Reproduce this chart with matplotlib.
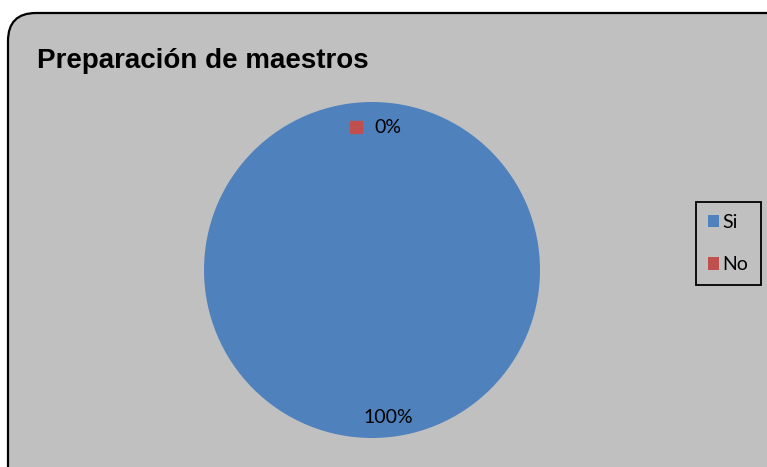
import numpy as np
import matplotlib.pyplot as plt
from matplotlib.patches import FancyBboxPatch, Patch
from matplotlib.transforms import offset_copy

title = 'Preparación de maestros'
categories = ['Si', 'No']
values = [100, 0]
pct_labels = ['100%', '0%']
colors = ['#4F81BD', '#C0504D']

W, H = 767, 467
fig = plt.figure(figsize=(W / 100, H / 100), dpi=100)

# background panel in pixel units
bg = fig.add_axes([0, 0, 1, 1])
bg.set_xlim(0, W)
bg.set_ylim(H, 0)
bg.axis('off')
bg.add_patch(FancyBboxPatch((8, 13), 820, 520, boxstyle='round,pad=0,rounding_size=28',
                            facecolor='#C0C0C0', edgecolor='black', linewidth=1.6))
bg.text(37, 68, title, fontsize=20, fontweight='bold', family='Liberation Sans',
        ha='left', va='baseline')

# pie
cx, cy, r = 372, 270, 168
ax = fig.add_axes([(cx - r) / W, (H - cy - r) / H, 2 * r / W, 2 * r / H])
wedges, _ = ax.pie(values, colors=colors, startangle=90, counterclock=False,
                   radius=1, wedgeprops=dict(linewidth=0))
ax.set_xlim(-1, 1)
ax.set_ylim(-1, 1)
ax.set_aspect('equal')
ax.axis('off')

# data labels along each wedge's mid angle, with a legend key to the left
tr_text = offset_copy(ax.transData, fig=fig, x=11.5, y=-1.5, units='points')
positions = []
start = 90
for v in values:
    mid = np.deg2rad(start - 360 * v / sum(values) / 2)
    start -= 360 * v / sum(values)
    d = 0.863
    positions.append((d * np.cos(mid), d * np.sin(mid)))

label_objs = []
for (x, y), lab in zip(positions, pct_labels):
    label_objs.append(ax.text(x, y, lab, fontsize=14, family='Lato', ha='center',
                              va='center', transform=tr_text))

fig.canvas.draw()
inv = ax.transData.inverted()
for t, col in zip(label_objs, colors):
    bb = t.get_window_extent()
    mx, my = inv.transform((bb.x0 - 18, (bb.y0 + bb.y1) / 2))
    ax.plot(mx, my, marker='s', markersize=8.6, color=col, linestyle='none')

handles = [Patch(facecolor=c, edgecolor='none') for c in colors]
leg = fig.legend(handles, categories, loc='upper left',
                 bbox_to_anchor=(696 / W, 1 - 202 / H), borderaxespad=0,
                 fancybox=False, frameon=True, edgecolor='black',
                 facecolor='#C0C0C0', framealpha=1,
                 prop={'family': 'Lato', 'size': 14},
                 handlelength=0.55, handleheight=0.6, handletextpad=0.2,
                 labelspacing=1.3, borderpad=0.62)
leg.get_frame().set_linewidth(1.3)

fig.savefig('out.png', dpi=100)
